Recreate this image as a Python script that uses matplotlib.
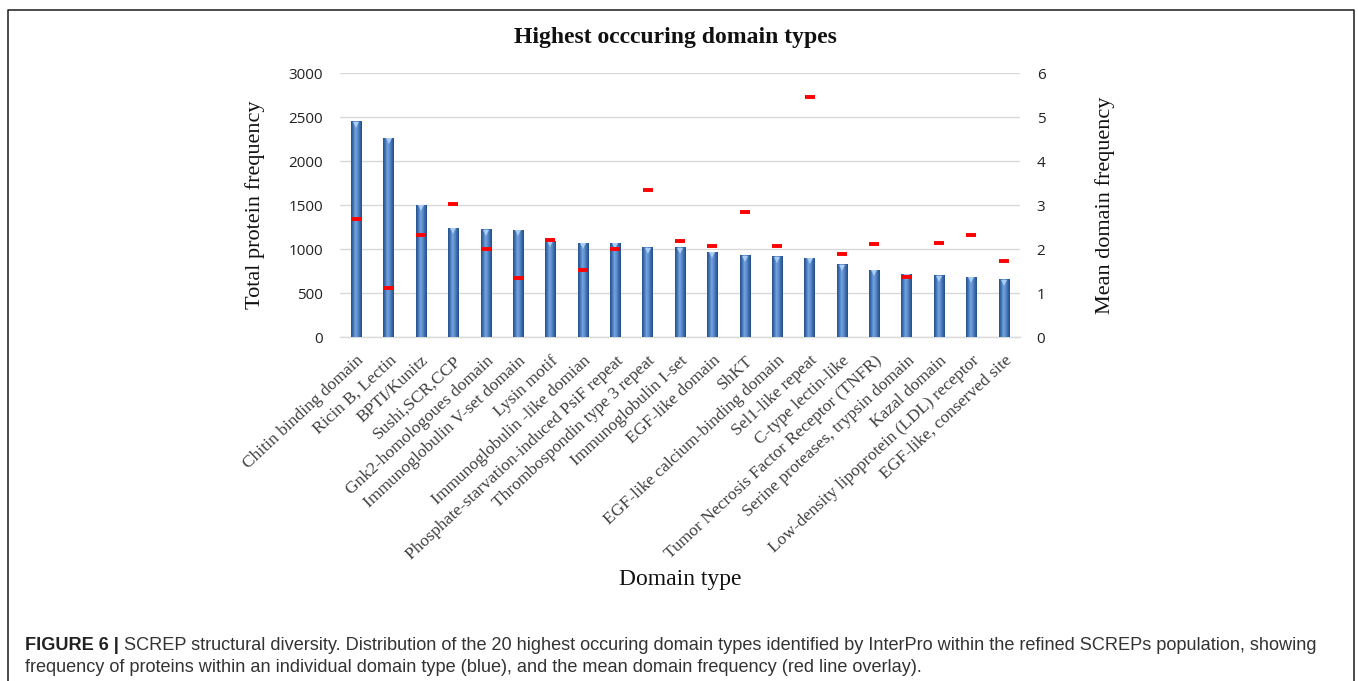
import matplotlib
matplotlib.use("Agg")
import matplotlib.pyplot as plt
import numpy as np
from matplotlib import font_manager, transforms
from matplotlib.colors import LinearSegmentedColormap
from matplotlib.lines import Line2D

# ---- data -------------------------------------------------------------
domains = [
    "Chitin binding domain", "Ricin B, Lectin", "BPTI/Kunitz", "Sushi,SCR,CCP",
    "Gnk2-homologoues domain", "Immunoglobulin V-set domain", "Lysin motif",
    "Immunoglobulin -like domian", "Phosphate-starvation-induced PsiF repeat",
    "Thrombospondin type 3 repeat", "Immunoglobulin I-set", "EGF-like domain",
    "ShKT", "EGF-like calcium-binding domain", "Sel1-like repeat",
    "C-type lectin-like", "Tumor Necrosis Factor Receptor (TNFR)",
    "Serine proteases, trypsin domain", "Kazal domain",
    "Low-density lipoprotein (LDL) receptor", "EGF-like, conserved site",
]
protein_freq = [2455, 2265, 1508, 1246, 1228, 1225, 1100, 1075, 1073, 1026,
                1022, 970, 935, 920, 905, 830, 765, 722, 705, 690, 660]
mean_domain_freq = [2.70, 1.11, 2.33, 3.02, 2.00, 1.34, 2.21, 1.53, 2.00, 3.35,
                    2.18, 2.08, 2.84, 2.08, 5.47, 1.89, 2.11, 1.38, 2.15, 2.33, 1.74]
left_ticks = [0, 500, 1000, 1500, 2000, 2500, 3000]
right_ticks = [0, 1, 2, 3, 4, 5, 6]

title = "Highest occcuring domain types"
caption_head = "FIGURE 6 |"
caption_line1 = ("SCREP structural diversity. Distribution of the 20 highest occuring "
                 "domain types identified by InterPro within the refined SCREPs "
                 "population, showing")
caption_line2 = ("frequency of proteins within an individual domain type (blue), and the "
                 "mean domain frequency (red line overlay).")

# ---- fonts ------------------------------------------------------------
installed = {f.name for f in font_manager.fontManager.ttflist}
serif = "Liberation Serif" if "Liberation Serif" in installed else "DejaVu Serif"
tick_font = "Open Sans" if "Open Sans" in installed else "DejaVu Sans"
cap_font = ("Liberation Sans Narrow" if "Liberation Sans Narrow" in installed
            else "Liberation Sans")

W, H = 1358, 681
fig = plt.figure(figsize=(W / 100, H / 100), dpi=100)
fig.patch.set_facecolor("white")

ax = fig.add_axes([340 / W, 1 - 337.3 / H, 680 / W, 264 / H])
ax2 = ax.twinx()

x = np.arange(len(domains))
bar_w = 0.32

# ---- cylinder-shaded bars ------------------------------------------------
bars = ax.bar(x, protein_freq, width=bar_w, color="#4a7cbc", edgecolor="none", zorder=2)
shade = LinearSegmentedColormap.from_list(
    "cyl", ["#24508c", "#4273b3", "#74a4df", "#5d8fcf", "#3c6bab", "#234d88"])
grad = np.linspace(0, 1, 64).reshape(1, -1)
for b in bars:
    x0, w, h = b.get_x(), b.get_width(), b.get_height()
    im = ax.imshow(grad, cmap=shade, aspect="auto", extent=(x0, x0 + w, 0, h),
                   origin="lower", zorder=3, interpolation="bilinear")
    im.set_clip_path(b)

# light cone highlight at the top of each bar
top_tr = transforms.offset_copy(ax.transData, fig=fig, y=-3.5, units="dots")
ax.plot(x, protein_freq, linestyle="none", marker="v", markersize=5,
        color="#a9cdf3", markeredgewidth=0, transform=top_tr, zorder=4)

ax.set_xlim(-0.5, len(domains) - 0.5)
ax.set_ylim(0, 3000)
ax.set_yticks(left_ticks)
ax.grid(axis="y", color="#d9d9d9", linewidth=1.0, zorder=0)
ax.set_axisbelow(True)
for s in ["top", "left", "right"]:
    ax.spines[s].set_visible(False)
ax.spines["bottom"].set_color("#d9d9d9")
ax.spines["bottom"].set_linewidth(1.0)
ax.tick_params(axis="y", length=0, pad=12, labelsize=11, labelcolor="#222222")
for t in ax.get_yticklabels():
    t.set_fontfamily(tick_font)

ax.set_xticks(x)
ax.set_xticklabels(domains, rotation=43, ha="right", rotation_mode="anchor",
                   fontfamily=serif, fontsize=12.6, color="#404040")
ax.tick_params(axis="x", length=0, pad=11)

# ---- mean domain frequency markers -----------------------------------------
ax2.plot(x, mean_domain_freq, linestyle="none", marker="_", markersize=7.5,
         markeredgewidth=2.8, color="#ff0000", zorder=5)
ax2.set_ylim(0, 6)
ax2.set_yticks(right_ticks)
for s in ["top", "left", "right", "bottom"]:
    ax2.spines[s].set_visible(False)
ax2.tick_params(axis="y", length=0, pad=12, labelsize=11, labelcolor="#222222")
for t in ax2.get_yticklabels():
    t.set_fontfamily(tick_font)

# ---- titles and axis labels -----------------------------------------------
fig.text(675 / W, 1 - 38 / H, title, ha="center", va="center",
         fontfamily=serif, fontweight="bold", fontsize=17, color="#111111")
fig.text(255 / W, 1 - 205 / H, "Total protein frequency", rotation=90,
         ha="center", va="center", fontfamily=serif, fontsize=16, color="#111111")
fig.text(1105 / W, 1 - 205 / H, "Mean domain frequency", rotation=90,
         ha="center", va="center", fontfamily=serif, fontsize=16, color="#111111")
fig.text(680 / W, 1 - 579 / H, "Domain type", ha="center", va="center",
         fontfamily=serif, fontsize=17, color="#111111")

# ---- caption ---------------------------------------------------------------
cap_size = 12
head = fig.text(25 / W, 1 - 645 / H, caption_head, ha="left", va="center",
                fontfamily=cap_font, fontweight="bold", fontsize=cap_size,
                color="#222222")
body1 = fig.text(0, 0, " " + caption_line1, ha="left", va="center",
                 fontfamily=cap_font, fontsize=cap_size, color="#333333")
body2 = fig.text(25 / W, 1 - 668 / H, caption_line2, ha="left", va="center",
                 fontfamily=cap_font, fontsize=cap_size, color="#333333")

# size the caption so that the first line spans the frame width
renderer = fig.canvas.get_renderer()
target = 1320 - 25
w_now = (head.get_window_extent(renderer).width
         + body1.get_window_extent(renderer).width)
cap_size = cap_size * target / w_now
for t in (head, body1, body2):
    t.set_fontsize(cap_size)
hw = head.get_window_extent(renderer).width
body1.set_position((25 / W + hw / W, 1 - 645 / H))

# ---- frame around the figure ---------------------------------------------
fx0, fx1, fy = 8 / W, 1354 / W, 1 - 10 / H
fig.add_artist(Line2D([fx0, fx0, fx1, fx1], [0, fy, fy, 0],
                      transform=fig.transFigure, color="#1a1a1a", linewidth=1.1))

fig.savefig("out.png", dpi=100)
